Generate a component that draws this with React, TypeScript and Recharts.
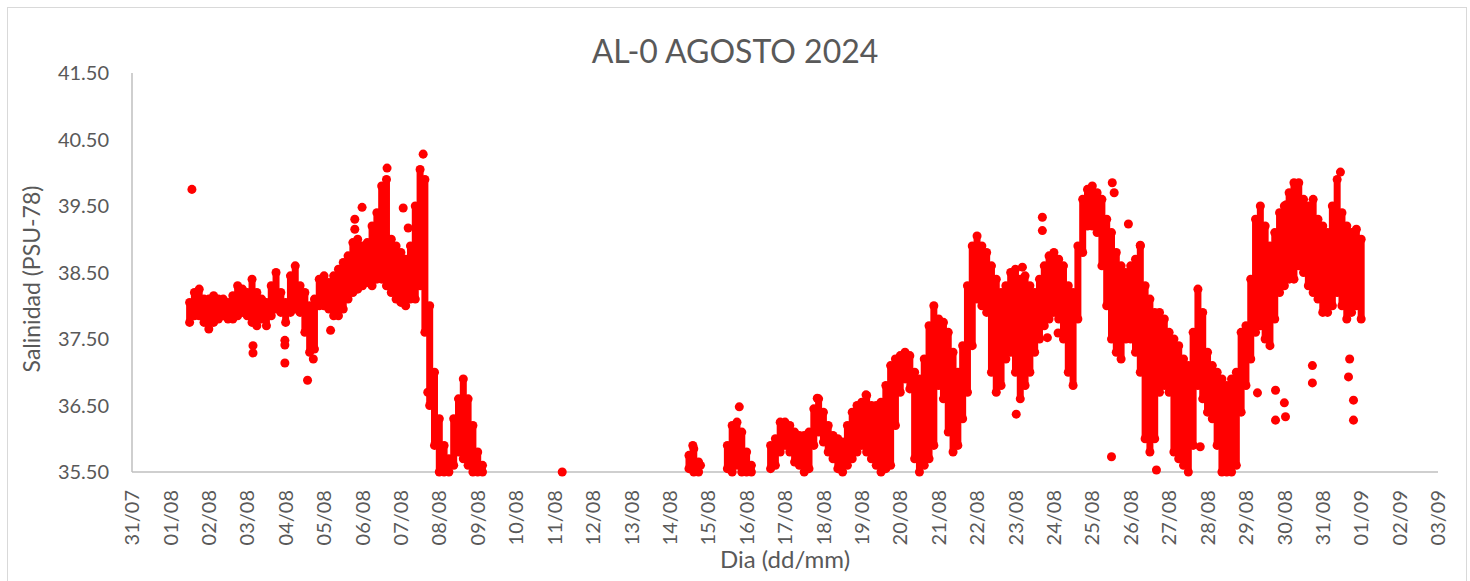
import React from 'react';
import { ScatterChart, Scatter, XAxis, YAxis, ZAxis, ErrorBar } from 'recharts';

// x = days since 31/07 00:00, sampled every 3 h (0.125 d)
const STEP = 0.125;

const dayLabels = [
  '31/07', '01/08', '02/08', '03/08', '04/08', '05/08', '06/08', '07/08', '08/08', '09/08',
  '10/08', '11/08', '12/08', '13/08', '14/08', '15/08', '16/08', '17/08', '18/08', '19/08',
  '20/08', '21/08', '22/08', '23/08', '24/08', '25/08', '26/08', '27/08', '28/08', '29/08',
  '30/08', '31/08', '01/09', '02/09', '03/09',
];
const yTicks = [35.5, 36.5, 37.5, 38.5, 39.5, 40.5, 41.5];

// 01/08 12h -> 09/08 03h
const startA = 1.5;
const loA = [
  37.75, 37.85, 37.85, 37.75,
  37.65, 37.75, 37.8, 37.85, 37.8, 37.8, 37.85, 37.9,
  37.85, 37.75, 37.7, 37.8, 37.7, 37.85, 37.95, 37.9,
  37.75, 37.9, 37.95, 37.9, 37.6, 37.3, 37.35, 38.0,
  38.0, 37.95, 37.85, 37.85, 37.95, 38.1, 38.2, 38.25,
  38.3, 38.35, 38.3, 38.4, 38.4, 38.3, 38.2, 38.1,
  38.05, 38.0, 38.1, 38.1, 38.3, 37.6, 36.5, 35.9,
  35.5, 35.5, 35.5, 35.6, 35.8, 35.7, 35.6, 35.5,
  35.5, 35.5,
];
const hiA = [
  38.05, 38.2, 38.25, 38.1,
  38.1, 38.15, 38.1, 38.1, 38.05, 38.15, 38.3, 38.25,
  38.2, 38.4, 38.2, 38.1, 38.05, 38.3, 38.5, 38.2,
  38.05, 38.45, 38.6, 38.3, 38.2, 38.0, 38.1, 38.4,
  38.45, 38.35, 38.45, 38.55, 38.65, 38.75, 38.95, 39.0,
  38.9, 38.95, 39.2, 39.4, 39.8, 39.9, 39.0, 38.9,
  38.8, 38.7, 38.9, 39.5, 40.05, 39.9, 38.0, 37.0,
  36.3, 35.9, 35.7, 36.3, 36.6, 36.9, 36.6, 36.2,
  35.8, 35.6,
];

// 14/08 12h
const startB = 14.5;
const loB = [35.55, 35.5, 35.5];
const hiB = [35.75, 35.85, 35.65];

// 15/08 12h
const startC = 15.5;
const loC = [35.55, 35.5, 35.6, 35.5, 35.5, 35.5];
const hiC = [35.9, 36.2, 36.25, 36.1, 35.8, 35.6];

// 16/08 15h -> 01/09 00h
const startD = 16.625;
const loD = [
  35.55, 35.6, 35.8,
  35.9, 35.8, 35.65, 35.6, 35.5, 35.55, 35.9, 36.1,
  35.95, 35.8, 35.7, 35.55, 35.5, 35.6, 35.7, 35.8,
  35.9, 35.8, 35.7, 35.6, 35.5, 35.55, 35.6, 36.2,
  36.7, 36.9, 36.75, 35.7, 35.5, 35.6, 35.7, 35.9,
  36.8, 36.6, 36.1, 35.8, 35.9, 36.3, 36.7, 37.4,
  38.1, 38.0, 37.9, 37.0, 36.7, 36.8, 37.2, 37.3,
  37.0, 36.6, 36.8, 37.0, 37.3, 37.5, 37.7, 37.8,
  37.9, 37.8, 37.5, 37.0, 36.8, 37.8, 38.8, 39.2,
  39.2, 39.1, 38.6, 38.0, 37.5, 37.3, 37.2, 37.5,
  37.5, 37.3, 37.0, 36.0, 35.8, 36.0, 36.7, 36.8,
  36.7, 35.8, 35.7, 35.6, 35.5, 35.9, 36.8, 36.6,
  36.4, 36.3, 35.9, 35.5, 35.5, 35.5, 35.6, 36.4,
  36.8, 37.2, 37.6, 37.7, 37.5, 37.4, 37.8, 38.2,
  38.3, 38.4, 38.4, 38.6, 38.5, 38.3, 38.2, 38.1,
  37.9, 37.9, 38.0, 38.2, 38.0, 37.8, 37.9, 38.0,
  37.8,
];
const hiD = [
  35.9, 36.0, 36.25,
  36.25, 36.2, 36.1, 36.05, 36.05, 36.1, 36.45, 36.6,
  36.4, 36.2, 36.05, 36.0, 35.95, 36.2, 36.4, 36.5,
  36.55, 36.65, 36.5, 36.5, 36.55, 36.8, 37.1, 37.2,
  37.25, 37.3, 37.25, 37.0, 36.9, 37.2, 37.7, 38.0,
  37.8, 37.75, 37.6, 37.3, 37.0, 37.4, 38.3, 38.9,
  39.05, 38.9, 38.8, 38.6, 38.4, 38.2, 38.3, 38.5,
  38.55, 38.4, 38.45, 38.3, 38.2, 38.4, 38.6, 38.75,
  38.8, 38.7, 38.6, 38.3, 38.2, 38.9, 39.6, 39.75,
  39.8, 39.7, 39.6, 39.3, 39.1, 38.8, 38.6, 38.5,
  38.6, 38.7, 38.9, 38.3, 38.1, 37.9, 37.9, 37.8,
  37.6, 37.5, 37.4, 37.2, 37.1, 37.6, 38.25, 37.9,
  37.3, 37.1, 37.0, 36.9, 36.8, 36.9, 37.0, 37.6,
  37.7, 38.4, 39.3, 39.5, 39.2, 38.9, 39.1, 39.4,
  39.5, 39.7, 39.85, 39.85, 39.6, 39.5, 39.6, 39.3,
  39.2, 39.1, 39.5, 39.9, 39.4, 39.2, 39.1, 39.15,
  39.0,
];

// isolated readings away from the main cloud
const outT = [
  1.56, 3.15, 3.15, 3.98, 3.98, 3.98, 4.57, 4.72, 5.17, 5.8, 5.8, 5.99, 6.64, 7.06, 7.19,
  7.58, 7.7, 11.2, 14.6, 14.8, 15.81, 17.84, 19.11, 23.02, 23.18, 23.7, 23.7, 23.83, 24.11,
  25.5, 25.52, 25.57, 25.94, 26.25, 26.67, 27.81, 29.3, 29.77, 29.77, 30.03, 30.0, 30.05,
  30.73, 30.73, 31.46, 31.67, 31.7, 31.8, 31.8,
];
const outV = [
  39.75, 37.4, 37.29, 37.48, 37.41, 37.14, 36.88, 37.2, 37.63, 39.3, 39.15, 39.48, 40.07, 39.47, 39.17,
  40.28, 36.7, 35.5, 35.9, 35.6, 36.48, 36.61, 36.66, 36.37, 38.58, 39.33, 39.13, 37.52, 37.59,
  35.73, 39.85, 39.7, 39.23, 38.91, 35.53, 35.88, 36.69, 36.73, 36.28, 36.33, 36.54, 39.52,
  36.84, 37.1, 40.01, 36.93, 37.2, 36.58, 36.28,
];

const RED = '#ff0000';
const TXT = '#595959';
const AXIS = '#bfbfbf';
const FONT = 'Lato, "Open Sans", sans-serif';

function band(start: number, lo: number[], hi: number[]) {
  return lo.map((v, i) => ({ t: start + i * STEP, v, top: hi[i], err: [0, hi[i] - v] }));
}

const bandData = [
  ...band(startA, loA, hiA),
  ...band(startB, loB, hiB),
  ...band(startC, loC, hiC),
  ...band(startD, loD, hiD),
];
const topData = bandData.map(d => ({ t: d.t, v: d.top }));
const outData = outT.map((t, i) => ({ t, v: outV[i] }));

function DayTick(props: any) {
  const { x, y, payload } = props;
  return (
    <text
      x={x} y={y} transform={`rotate(-90, ${x}, ${y})`}
      textAnchor="end" dy="0.36em"
      fill={TXT} fontSize={20} fontFamily={FONT}
    >
      {dayLabels[payload.value]}
    </text>
  );
}

export default function App() {
  return (
    <div style={{ position: 'absolute', left: 0, top: 0, width: 1470, height: 581, background: '#fff', fontFamily: FONT }}>
      <div style={{ position: 'absolute', left: 7, top: 7, width: 1458, height: 574, border: '1px solid #d9d9d9' }} />
      <div style={{ position: 'absolute', left: 0, top: 35, width: 1470, textAlign: 'center', fontSize: 32, lineHeight: '32px', color: TXT }}>
        AL-0 AGOSTO 2024
      </div>
      <div style={{ position: 'absolute', left: 132, top: 547, width: 1306, textAlign: 'center', fontSize: 24, lineHeight: '24px', color: TXT }}>
        Dia (dd/mm)
      </div>
      <div style={{
        position: 'absolute', left: 31, top: 279, transform: 'translate(-50%, -50%) rotate(-90deg)',
        whiteSpace: 'nowrap', fontSize: 23, lineHeight: '23px', color: TXT,
      }}>
        Salinidad (PSU-78)
      </div>
      <div style={{ position: 'absolute', left: 0, top: 0 }}>
        <ScatterChart width={1470} height={581} margin={{ top: 73, right: 32, bottom: 0, left: 0 }}>
          <XAxis
            type="number" dataKey="t" domain={[0, dayLabels.length - 1]}
            ticks={dayLabels.map((_, i) => i)} interval={0}
            height={109} tickSize={0} tickMargin={18}
            axisLine={{ stroke: AXIS, strokeWidth: 1.5 }} tickLine={false}
            tick={<DayTick />}
          />
          <YAxis
            type="number" dataKey="v" domain={[35.5, 41.5]} ticks={yTicks} interval={0}
            width={132} tickSize={0} tickMargin={23}
            axisLine={{ stroke: AXIS, strokeWidth: 1.5 }} tickLine={false}
            tick={{ fill: TXT, fontSize: 20, fontFamily: FONT }}
            tickFormatter={(v: number) => v.toFixed(2)}
          />
          <ZAxis range={[40, 40]} />
          <Scatter data={bandData} fill={RED} isAnimationActive={false}>
            <ErrorBar
              dataKey="err" direction="y" width={0}
              stroke={RED} strokeWidth={7} strokeLinecap="round"
              isAnimationActive={false}
            />
          </Scatter>
          <Scatter data={topData} fill={RED} isAnimationActive={false} />
          <Scatter data={outData} fill={RED} isAnimationActive={false} />
        </ScatterChart>
      </div>
    </div>
  );
}
